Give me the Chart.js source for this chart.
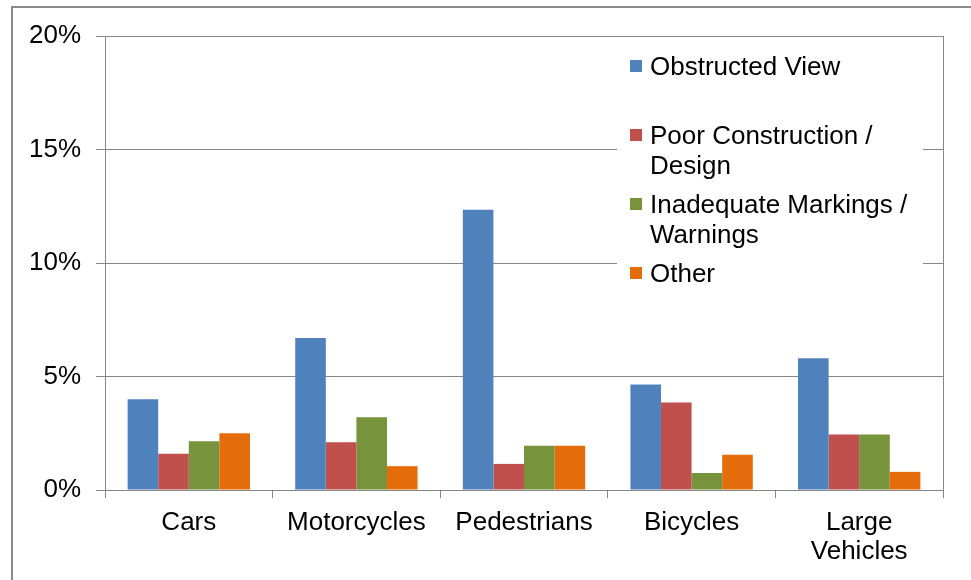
<!DOCTYPE html>
<html>
<head>
<meta charset="utf-8">
<title>Road Factors by Road User</title>
<script src="https://cdn.jsdelivr.net/npm/chart.js"></script>
<style>
html,body{margin:0;padding:0;background:#fff}
#wrap{position:relative;width:971px;height:580px;overflow:hidden;font-family:"Liberation Sans",Arial,sans-serif}
#frame{position:absolute;left:11px;top:6px;width:1000px;height:700px;border:2px solid #8a8a8a;box-sizing:border-box}
canvas{position:absolute;left:0;top:0}
#legend{position:absolute;left:617px;top:45px;width:306px;height:246px;background:#fff}
.item{position:absolute;left:13px;font-size:26px;line-height:30px;color:#000}
.item .txt{position:absolute;left:20px;top:0;width:290px;white-space:nowrap}
.item .box{position:absolute;left:0;top:9px;width:12px;height:12px}
</style>
</head>
<body>
<div id="wrap">
<div id="frame"></div>
<canvas id="chart" width="971" height="580"></canvas>
<div id="legend"></div>
</div>

<script>
// ===== DATA =====
const categories=["Cars","Motorcycles","Pedestrians","Bicycles",["Large","Vehicles"]]
const seriesNames=["Obstructed View","Poor Construction / Design","Inadequate Markings / Warnings","Other"]
const legendLines=[["Obstructed View"],["Poor Construction /","Design"],["Inadequate Markings /","Warnings"],["Other"]]
const obstructedView=[4.0,6.7,12.35,4.65,5.8]
const poorConstruction=[1.6,2.1,1.15,3.85,2.45]
const inadequateMarkings=[2.15,3.2,1.95,0.75,2.45]
const other=[2.5,1.05,1.95,1.55,0.8]
const yTicks=[0,5,10,15,20]
const colors=["#4F81BD","#C0504D","#77933C","#E46C0A"]

const values=[obstructedView,poorConstruction,inadequateMarkings,other]

// right edge of the plot box
const rightLine={
  id:"rightLine",
  afterDraw(c){
    const a=c.chartArea,ctx=c.ctx
    ctx.save()
    ctx.strokeStyle="#868686"
    ctx.lineWidth=1
    ctx.beginPath()
    ctx.moveTo(Math.round(a.right)+0.5,a.top)
    ctx.lineTo(Math.round(a.right)+0.5,a.bottom+8)
    ctx.stroke()
    ctx.restore()
  }
}

const tickFont={family:"'Liberation Sans', Arial",size:26,lineHeight:1.12}

new Chart(document.getElementById("chart"),{
  type:"bar",
  data:{
    labels:categories,
    datasets:seriesNames.map((n,i)=>({
      label:n,
      data:values[i],
      backgroundColor:colors[i],
      borderWidth:0,
      categoryPercentage:0.73,
      barPercentage:1.0
    }))
  },
  options:{
    responsive:false,
    animation:false,
    layout:{padding:{left:0,right:28,top:36,bottom:0}},
    plugins:{legend:{display:false},tooltip:{enabled:false}},
    scales:{
      x:{
        grid:{display:true,drawOnChartArea:false,color:"#868686",tickLength:8,offset:true},
        border:{color:"#868686"},
        ticks:{color:"#000",font:tickFont,padding:10,maxRotation:0,autoSkip:false},
        afterFit:s=>{s.height=90}
      },
      y:{
        min:0,max:20,
        afterBuildTicks:s=>{s.ticks=yTicks.map(v=>({value:v}))},
        grid:{color:"#868686",tickLength:9},
        border:{color:"#868686"},
        ticks:{color:"#000",font:tickFont,padding:15,callback:v=>v+"%"},
        afterFit:s=>{s.width=105}
      }
    }
  },
  plugins:[rightLine]
})

// ===== LEGEND =====
const lg=document.getElementById("legend")
legendLines.forEach((lines,i)=>{
  const it=document.createElement("div")
  it.className="item"
  it.style.top=(6+i*69)+"px"
  it.innerHTML='<span class="box" style="background:'+colors[i]+'"></span><div class="txt">'+lines.join("<br>")+'</div>'
  lg.appendChild(it)
})
</script>
</body>
</html>
